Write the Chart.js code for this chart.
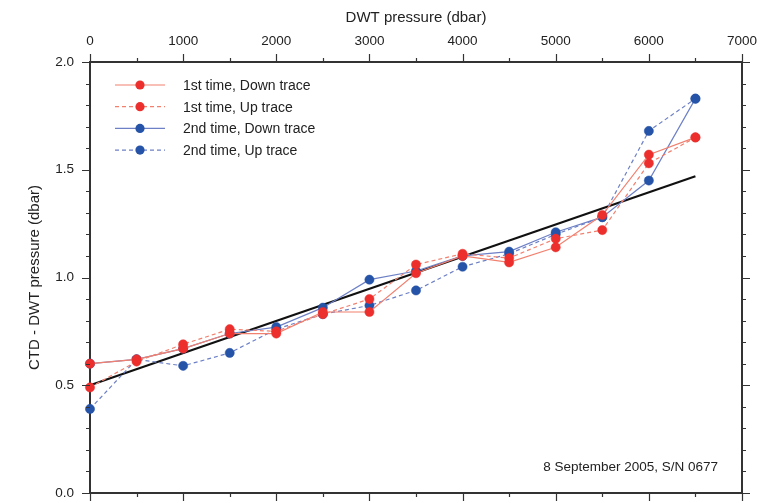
<!DOCTYPE html>
<html>
<head>
<meta charset="utf-8">
<script src="https://cdn.jsdelivr.net/npm/chart.js@4.4.1/dist/chart.umd.min.js"></script>
<style>
  html, body { margin: 0; padding: 0; background: #fff; }
  #wrap { width: 760px; height: 503px; position: relative; }
</style>
</head>
<body>
<div id="wrap"><canvas id="c" width="760" height="503"></canvas></div>
<script>
// DWT pressure steps and CTD - DWT offsets (dbar)
const pressure   = [0, 500, 1000, 1500, 2000, 2500, 3000, 3500, 4000, 4500, 5000, 5500, 6000, 6500];
const firstDown  = [0.60, 0.62, 0.67, 0.74, 0.74, 0.84, 0.84, 1.02, 1.10, 1.07, 1.14, 1.29, 1.57, 1.65];
const firstUp    = [0.49, 0.61, 0.69, 0.76, 0.75, 0.83, 0.90, 1.06, 1.11, 1.09, 1.18, 1.22, 1.53, 1.65];
const secondDown = [0.60, 0.62, 0.67, 0.74, 0.77, 0.86, 0.99, 1.03, 1.10, 1.12, 1.21, 1.28, 1.45, 1.83];
const secondUp   = [0.39, 0.62, 0.59, 0.65, 0.76, 0.83, 0.87, 0.94, 1.05, 1.11, 1.20, 1.28, 1.68, 1.83];

// linear fit through all casts
const fitPressure = [0, 6500];
const fitOffset   = [0.50, 1.47];

const xTicks = [0, 1000, 2000, 3000, 4000, 5000, 6000, 7000];
const yTicks = [0.0, 0.5, 1.0, 1.5, 2.0];
const noteText = '8 September 2005, S/N 0677';

const FONT = '"Liberation Sans", Arial, sans-serif';
const RED = '#ec2f2c', RED_LINE = '#f2806f';
const BLUE = '#2553a8', BLUE_LINE = '#6d80c6';

function pts(ys, xs) { return ys.map((v, i) => ({ x: (xs || pressure)[i], y: v })); }

function series(label, ys, dot, line, dashed) {
  return {
    label, data: pts(ys),
    borderColor: line, borderWidth: 1.2, borderDash: dashed ? [4, 3] : [],
    pointRadius: 4.6, pointBackgroundColor: dot, pointBorderColor: dot,
    pointBorderWidth: 0.5, tension: 0, clip: false, order: 1
  };
}

// fixed box sizes; drop the label overflow padding so the plot frame stays put
function fixBox(size) {
  return s => {
    if (s.isHorizontal()) s.height = size; else s.width = size;
    s.paddingLeft = s.paddingRight = s.paddingTop = s.paddingBottom = 0;
  };
}

// ticks on all four sides, long at labelled values, short in between
const frameTicks = {
  id: 'frameTicks',
  afterDraw(chart) {
    const { ctx, chartArea: a, scales } = chart;
    const x = scales.x, y = scales.y;
    ctx.save();
    ctx.strokeStyle = '#333';
    ctx.lineWidth = 1.2;
    ctx.beginPath();
    for (let v = 0; v <= 7000; v += 500) {
      const px = Math.round(x.getPixelForValue(v)) + 0.5;
      const len = v % 1000 === 0 ? 8 : 4;
      ctx.moveTo(px, a.top); ctx.lineTo(px, a.top - len);
      ctx.moveTo(px, a.bottom); ctx.lineTo(px, a.bottom + len);
    }
    for (let i = 0; i <= 20; i++) {
      const py = Math.round(y.getPixelForValue(i / 10)) + 0.5;
      const len = i % 5 === 0 ? 8 : 4;
      ctx.moveTo(a.left, py); ctx.lineTo(a.left - len, py);
      ctx.moveTo(a.right, py); ctx.lineTo(a.right + len, py);
    }
    ctx.stroke();

    // legend box inside the plot, top left
    ctx.font = '14px ' + FONT;
    ctx.textBaseline = 'middle';
    ctx.textAlign = 'left';
    chart.data.datasets.filter(d => d.inLegend !== false).forEach((d, i) => {
      const ly = 85 + i * 21.7;
      ctx.strokeStyle = d.borderColor;
      ctx.lineWidth = d.borderWidth;
      ctx.setLineDash(d.borderDash);
      ctx.beginPath(); ctx.moveTo(115, ly); ctx.lineTo(165, ly); ctx.stroke();
      ctx.setLineDash([]);
      ctx.fillStyle = d.pointBackgroundColor;
      ctx.beginPath(); ctx.arc(140, ly, d.pointRadius, 0, Math.PI * 2); ctx.fill();
      ctx.fillStyle = '#222';
      ctx.fillText(d.label, 183, ly + 1);
    });

    ctx.font = '13.5px ' + FONT;
    ctx.textAlign = 'right';
    ctx.fillStyle = '#222';
    ctx.fillText(noteText, 718, 467);
    ctx.restore();
  }
};

new Chart(document.getElementById('c'), {
  type: 'line',
  data: {
    datasets: [
      series('1st time, Down trace', firstDown, RED, RED_LINE, false),
      series('1st time, Up trace', firstUp, RED, RED_LINE, true),
      series('2nd time, Down trace', secondDown, BLUE, BLUE_LINE, false),
      series('2nd time, Up trace', secondUp, BLUE, BLUE_LINE, true),
      {
        label: 'fit', inLegend: false, data: pts(fitOffset, fitPressure),
        borderColor: '#111', borderWidth: 2.2, pointRadius: 0, order: 5, clip: false
      }
    ]
  },
  options: {
    responsive: false,
    animation: false,
    layout: { padding: 0 },
    plugins: { legend: { display: false }, tooltip: { enabled: false } },
    scales: {
      x: {
        type: 'linear', position: 'top', min: 0, max: 7000,
        afterBuildTicks: s => { s.ticks = xTicks.map(v => ({ value: v })); },
        afterFit: fixBox(62),
        grid: { display: false, drawTicks: false },
        border: { display: true, color: '#333', width: 2 },
        ticks: { padding: 13, color: '#222', font: { family: FONT, size: 13.5 }, callback: v => String(v) },
        title: { display: true, text: 'DWT pressure (dbar)', color: '#222', font: { family: FONT, size: 15 }, padding: { top: 9, bottom: 0 } }
      },
      xb: {
        type: 'linear', position: 'bottom', min: 0, max: 7000, display: true,
        afterFit: fixBox(10),
        grid: { display: false, drawTicks: false },
        border: { display: true, color: '#333', width: 2 },
        ticks: { display: false }
      },
      y: {
        type: 'linear', position: 'left', min: 0, max: 2,
        afterBuildTicks: s => { s.ticks = yTicks.map(v => ({ value: v })); },
        afterFit: fixBox(90),
        grid: { display: false, drawTicks: false },
        border: { display: true, color: '#333', width: 2 },
        ticks: { padding: 16, color: '#222', font: { family: FONT, size: 13.5 }, callback: v => v.toFixed(1) },
        title: { display: true, text: 'CTD - DWT pressure (dbar)', color: '#222', font: { family: FONT, size: 15 }, padding: { top: 26, bottom: 0 } }
      },
      yr: {
        type: 'linear', position: 'right', min: 0, max: 2, display: true,
        afterFit: fixBox(18),
        grid: { display: false, drawTicks: false },
        border: { display: true, color: '#333', width: 2 },
        ticks: { display: false }
      }
    }
  },
  plugins: [frameTicks]
});
</script>
</body>
</html>
